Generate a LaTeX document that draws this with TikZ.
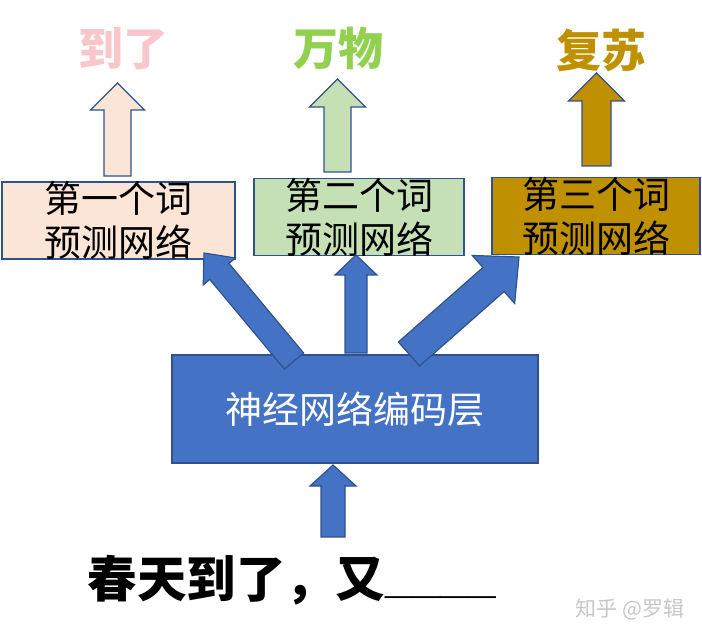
\documentclass[tikz,border=0pt]{standalone}
\usepackage{fontspec}
\newfontfamily\cjk{Noto Sans CJK SC}
\newfontfamily\lat{Liberation Sans}
\usetikzlibrary{calc}

\definecolor{peach}{HTML}{FBE5D6}
\definecolor{leaf}{HTML}{C5E0B4}
\definecolor{ochre}{HTML}{BF9000}
\definecolor{encblue}{HTML}{4472C4}
\definecolor{edgeblue}{HTML}{2F528F}
\definecolor{rose}{HTML}{F8C6CB}
\definecolor{grass}{HTML}{92D050}

\begin{document}
\begin{tikzpicture}[x=1pt,y=-1pt,line width=1.2pt,
  netbox/.style={draw=edgeblue,inner sep=0pt,minimum height=77pt},
  boxtext/.style={font=\cjk\fontsize{37}{44}\selectfont,align=center},
  wordtext/.style={font=\cjk\bfseries\fontsize{45}{50}\selectfont},
  arrowline/.style={draw=edgeblue,line width=1.2pt,line join=miter}]
\useasboundingbox (0,0) rectangle (702,639);
  % block arrow: tail, tip, half shaft, half head, head length, fill
  \newcommand\blockarrow[6]{{%
    \coordinate (h) at ($(#2)!#5!(#1)$);
    \draw[arrowline,fill=#6] ($(#1)!#3!90:(#2)$) -- ($(h)!#3!90:(#2)$)
      -- ($(h)!#4!90:(#2)$) -- (#2) -- ($(h)!#4!-90:(#2)$)
      -- ($(h)!#3!-90:(#2)$) -- ($(#1)!#3!-90:(#2)$) -- cycle;}}
  % predicted words
  \node[wordtext,text=rose]  (w1) at (123.5,49) {到了};
  \node[wordtext,text=grass] (w2) at (338,48)   {万物};
  \node[wordtext,text=ochre] (w3) at (601,50)   {复苏};
  % prediction nets
  \node[netbox,fill=peach,minimum width=233pt] (p1) at (118.5,220.5) {};
  \node[netbox,fill=leaf,minimum width=210pt]  (p2) at (359,217) {};
  \node[netbox,fill=ochre,minimum width=208pt] (p3) at (596,216) {};
  \node[boxtext] (p1t) at (p1) {第一个词\\预测网络};
  \node[boxtext] (p2t) at (p2) {第二个词\\预测网络};
  \node[boxtext] (p3t) at (p3) {第三个词\\预测网络};
  % encoder
  \node[draw=edgeblue,fill=encblue,minimum width=366pt,minimum height=108pt,
        text=white,font=\cjk\fontsize{37}{44}\selectfont] (enc) at (355,409) {神经网络编码层};
  % input sentence
  \node[anchor=base west,inner sep=0pt,font=\cjk\bfseries\fontsize{49.5}{52}\selectfont]
    (sent) at (87,597) {春天到了，又\hspace{1pt}\raisebox{5pt}{\lat\_\_\_\_}};
  \node[text=black!22,font=\cjk\fontsize{21}{24}\selectfont] (mark) at (630,609) {知乎 @罗辑};
  % arrow ends
  \coordinate (w1s) at (117.5,176); \coordinate (w1e) at (117.5,83);
  \coordinate (w2s) at (337.5,172); \coordinate (w2e) at (337.5,79);
  \coordinate (w3s) at (596.5,166); \coordinate (w3e) at (596.5,73);
  \coordinate (e1s) at (294,361);   \coordinate (e1e) at (204,253);
  \coordinate (e2s) at (356,353);   \coordinate (e2e) at (356,255);
  \coordinate (e3s) at (409,354);   \coordinate (e3e) at (519,257);
  \coordinate (ins) at (333,537);   \coordinate (ine) at (333,465);
  \blockarrow{w1s}{w1e}{13.5pt}{27pt}{27pt}{peach}
  \blockarrow{w2s}{w2e}{13.5pt}{28pt}{28pt}{leaf}
  \blockarrow{w3s}{w3e}{14.5pt}{28pt}{28pt}{ochre}
  \blockarrow{e1s}{e1e}{12.5pt}{21pt}{24pt}{encblue}
  \blockarrow{e2s}{e2e}{11pt}{21pt}{20pt}{encblue}
  \blockarrow{e3s}{e3e}{16pt}{32pt}{34pt}{encblue}
  \blockarrow{ins}{ine}{12pt}{23pt}{21pt}{encblue}
\end{tikzpicture}
\end{document}
